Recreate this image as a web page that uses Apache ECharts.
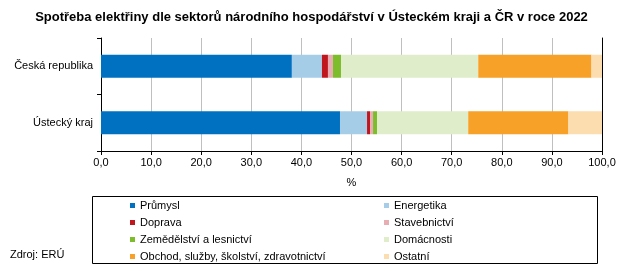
<!DOCTYPE html>
<html>
<head>
<meta charset="utf-8">
<script src="https://cdn.jsdelivr.net/npm/echarts@6/dist/echarts.min.js"></script>
<style>
html,body{margin:0;padding:0;background:#fff;}
#c{width:623px;height:271px;}
</style>
</head>
<body>
<div id="c"></div>
<script>
const categories = ['Česká republika', 'Ústecký kraj'];
const seriesNames = ['Průmysl', 'Energetika', 'Doprava', 'Stavebnictví', 'Zemědělství a lesnictví', 'Domácnosti', 'Obchod, služby, školství, zdravotnictví', 'Ostatní'];
const prumysl = [38.1, 47.7];
const energetika = [6.0, 5.4];
const doprava = [1.2, 0.6];
const stavebnictvi = [1.0, 0.6];
const zemedelstvi = [1.6, 0.8];
const domacnosti = [27.4, 18.2];
const obchod = [22.6, 20.0];
const ostatni = [2.1, 6.7];
const xTicks = [0, 10, 20, 30, 40, 50, 60, 70, 80, 90, 100];

const values = [prumysl, energetika, doprava, stavebnictvi, zemedelstvi, domacnosti, obchod, ostatni];
const colors = ['#0070C0', '#A6CDE7', '#C0171F', '#E8ADB2', '#7DBC2A', '#DFEDCB', '#F7A128', '#FCDDB0'];
const FONT = 'Liberation Sans, Arial, sans-serif';

const chart = echarts.init(document.getElementById('c'), null, {renderer: 'canvas'});
const legendCommon = {
  orient: 'vertical',
  top: 194,
  icon: 'rect',
  itemWidth: 5,
  itemHeight: 5,
  itemGap: 4,
  selectedMode: false,
  textStyle: {fontFamily: FONT, fontSize: 11, color: '#000', lineHeight: 13}
};
chart.setOption({
  animation: false,
  color: colors,
  title: {
    text: 'Spotřeba elektřiny dle sektorů národního hospodářství v Ústeckém kraji a ČR v roce 2022',
    left: 'center',
    top: 6,
    textStyle: {fontFamily: FONT, fontWeight: 'bold', fontSize: 13, color: '#000'}
  },
  graphic: [
    {type: 'rect', shape: {x: 92.5, y: 196.5, width: 505, height: 67}, style: {fill: 'none', stroke: '#000', lineWidth: 1}, z: -1},
    {type: 'text', left: 10, top: 249, style: {text: 'Zdroj: ERÚ', font: '11px ' + FONT, fill: '#000'}}
  ],
  legend: [
    Object.assign({left: 125, data: [seriesNames[0], seriesNames[2], seriesNames[4], seriesNames[6]]}, legendCommon),
    Object.assign({left: 379, data: [seriesNames[1], seriesNames[3], seriesNames[5], seriesNames[7]]}, legendCommon)
  ],
  grid: {left: 101, right: 21, top: 38, bottom: 120},
  xAxis: {
    type: 'value',
    min: xTicks[0],
    max: xTicks[xTicks.length - 1],
    interval: xTicks[1] - xTicks[0],
    name: '%',
    nameLocation: 'middle',
    nameGap: 26,
    nameTextStyle: {fontFamily: FONT, fontSize: 11, color: '#000'},
    axisLine: {show: true, lineStyle: {color: '#000', width: 1}},
    axisTick: {show: true, length: 4, lineStyle: {color: '#000'}},
    axisLabel: {fontFamily: FONT, fontSize: 11, color: '#000', margin: 6,
      formatter: v => v.toFixed(1).replace('.', ',')},
    splitLine: {show: true, lineStyle: {color: '#BFBFBF', width: 1}}
  },
  yAxis: [{
    type: 'category',
    data: categories,
    inverse: true,
    axisLine: {show: true, lineStyle: {color: '#000', width: 1}},
    axisTick: {show: true, length: 4, lineStyle: {color: '#000'}},
    axisLabel: {fontFamily: FONT, fontSize: 11, color: '#000', margin: 8}
  }, {
    type: 'category',
    data: categories,
    inverse: true,
    position: 'right',
    axisLine: {show: true, lineStyle: {color: '#000', width: 1}},
    axisTick: {show: false},
    axisLabel: {show: false}
  }],
  series: seriesNames.map((n, i) => ({
    name: n,
    type: 'bar',
    stack: 'total',
    barWidth: 23,
    data: values[i],
    itemStyle: {color: colors[i]}
  }))
});
</script>
</body>
</html>
